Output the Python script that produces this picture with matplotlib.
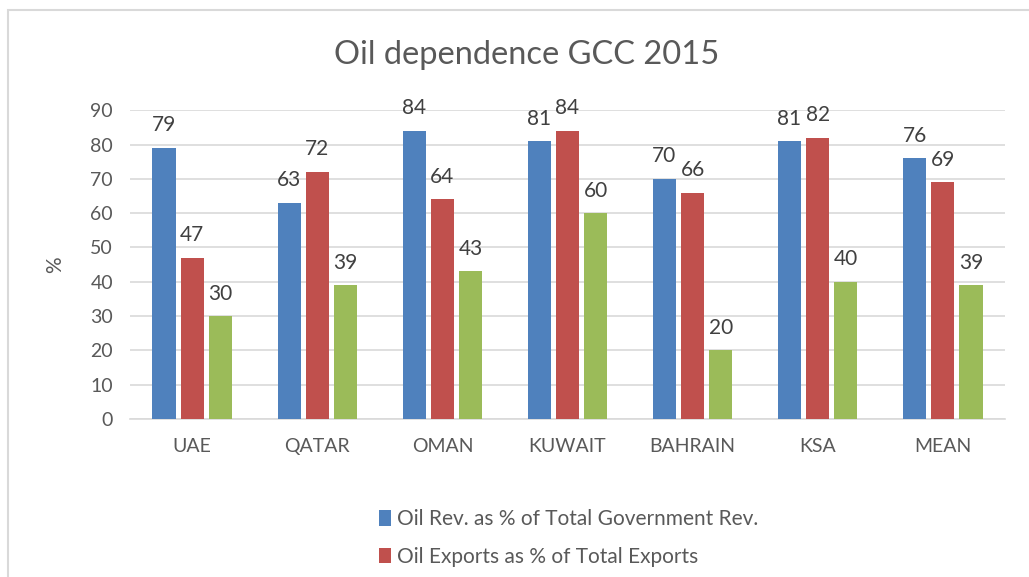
import numpy as np
import matplotlib.pyplot as plt
from matplotlib.patches import Rectangle

countries = ['UAE', 'QATAR', 'OMAN', 'KUWAIT', 'BAHRAIN', 'KSA', 'MEAN']
oil_rev = [79, 63, 84, 81, 70, 81, 76]
oil_exp = [47, 72, 64, 84, 66, 82, 69]
oil_third = [30, 39, 43, 60, 20, 40, 39]

plt.rcParams['font.family'] = ['Lato', 'DejaVu Sans']

fig = plt.figure(figsize=(10.29, 5.77), dpi=100)
ax = fig.add_axes([0.126, 0.274, 0.851, 0.535])

x = np.arange(len(countries))
w = 0.185
step = 0.225
b1 = ax.bar(x - step, oil_rev, w, color='#4F81BD', label='Oil Rev. as % of Total Government Rev.', zorder=3)
b2 = ax.bar(x, oil_exp, w, color='#C0504D', label='Oil Exports as % of Total Exports', zorder=3)
b3 = ax.bar(x + step, oil_third, w, color='#9BBB59', zorder=3)

for bars in (b1, b2, b3):
    for r in bars:
        ax.annotate(f'{int(r.get_height())}', (r.get_x() + r.get_width() / 2, r.get_height()),
                    xytext=(0, 9), textcoords='offset points', ha='center', va='bottom',
                    fontsize=15, color='#404040')

ax.set_ylim(0, 90)
ax.set_xlim(-0.5, len(countries) - 0.5)
ax.set_yticks(range(0, 91, 10))
ax.set_xticks(x)
ax.set_xticklabels(countries)
ax.tick_params(axis='both', length=0, labelsize=14, colors='#595959')
ax.tick_params(axis='x', pad=14)
ax.tick_params(axis='y', pad=12)
ax.grid(axis='y', color='#d9d9d9', linewidth=1.2, zorder=0)
for s in ['top', 'right', 'left']:
    ax.spines[s].set_visible(False)
ax.spines['bottom'].set_color('#d9d9d9')
ax.spines['bottom'].set_linewidth(1.2)
ax.set_ylabel('%', fontsize=15, color='#595959', labelpad=18)

fig.text(0.512, 0.905, 'Oil dependence GCC 2015', ha='center', va='center', fontsize=23.5, color='#595959')

leg = fig.legend(handles=[b1, b2], loc='upper left', bbox_to_anchor=(0.35, 0.15),
                 frameon=False, fontsize=15, handlelength=0.6, handleheight=0.75,
                 handletextpad=0.25, labelspacing=0.85, labelcolor='#595959')

fig.patches.append(Rectangle((0.008, -0.1), 1.1, 1.083, transform=fig.transFigure,
                             fill=False, edgecolor='#d9d9d9', linewidth=1.5))

fig.savefig('out.png', dpi=100)
